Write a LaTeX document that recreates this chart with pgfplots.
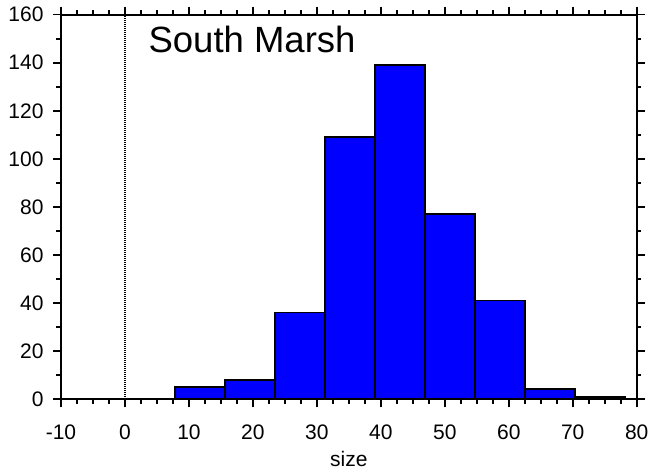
\documentclass[border=0pt]{standalone}
\usepackage{pgfplots}
\pgfplotsset{compat=1.18}
\usepackage{fontspec}
\setmainfont{Liberation Sans}

\definecolor{barblue}{RGB}{0,0,255}

\begin{document}
\begin{tikzpicture}
    \begin{axis}[
        scale only axis,
        width=575.7bp,
        height=384.3bp,
        xmin=-10, xmax=80,
        ymin=0, ymax=160,
        xtick={-10,0,...,80},
        ytick={0,20,...,160},
        minor x tick num=3,
        minor y tick num=1,
        tick align=outside,
        major tick length=8bp,
        minor tick length=4.5bp,
        every tick/.style={black, line width=1.6bp},
        axis line style={line width=2bp},
        every tick label/.append style={font=\fontsize{21bp}{25bp}\selectfont},
        yticklabel style={xshift=-6bp},
        xticklabel style={yshift=-14bp},
        /pgf/number format/assume math mode=true,
        xlabel={size},
        every axis x label/.append style={font=\fontsize{21bp}{25bp}\selectfont, yshift=-5bp},
        clip=false,
    ]
    % histogram bins (left edges), last point closes the final bin
    \addplot[ybar interval, fill=barblue, draw=black, line width=1.8bp] coordinates {
        (7.85,5) (15.67,8) (23.49,36) (31.31,109) (39.13,139)
        (46.95,77) (54.77,41) (62.59,4) (70.41,1) (78.23,1)
    };
    \addplot[black, line width=1.2bp, dash pattern=on 1bp off 1bp] coordinates {(0,0) (0,160)};
    \node[anchor=base west, font=\fontsize{36.5bp}{40bp}\selectfont]
        at (rel axis cs:0.146,0.902) {South Marsh};
    \end{axis}
    % page margins around the axis box, as in the reference
    \pgfresetboundingbox
    \path[use as bounding box]
        ([shift={(-61bp,-74bp)}]current axis.south west)
        rectangle ([shift={(15.3bp,14.7bp)}]current axis.north east);
\end{tikzpicture}
\end{document}
